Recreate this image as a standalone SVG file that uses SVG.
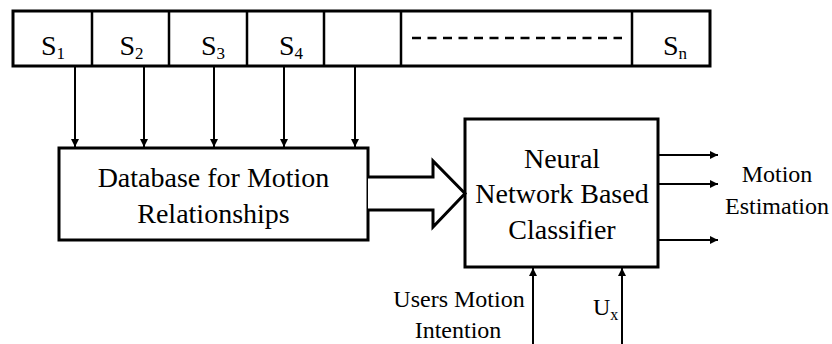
<svg xmlns="http://www.w3.org/2000/svg" width="832" height="344" viewBox="0 0 832 344">
  <style>
    .box { fill: #fff; stroke: #000; stroke-width: 3; }
    .cell { fill: none; stroke: #000; stroke-width: 2.5; }
    .wire { fill: none; stroke: #000; stroke-width: 2; }
    text { font-family: 'Liberation Serif', 'DejaVu Serif', serif; fill: #000; }
    .big { font-size: 28px; text-anchor: middle; }
    .mid { font-size: 24px; text-anchor: middle; }
    .sub { font-size: 17px; }
  </style>
  <defs>
    <marker id="head" viewBox="0 0 8 8" refX="8" refY="4" markerWidth="8" markerHeight="8" markerUnits="userSpaceOnUse" orient="auto">
      <path d="M0,0 L8,4 L0,8 Z" fill="#000"/>
    </marker>
  </defs>

  <!-- sensor strip -->
  <g id="sensors">
    <rect class="box" x="13" y="11" width="697" height="55"/>
    <path class="cell" d="M92,11 V66 M169,11 V66 M247,11 V66 M324,11 V66 M401,11 V66 M632,11 V66"/>
    <path d="M412,38 H622" stroke="#000" stroke-width="2.5" stroke-dasharray="9,6.5"/>
    <text class="big" x="53" y="55" font-family="Liberation Serif">S<tspan class="sub" dy="4">1</tspan></text>
    <text class="big" x="131.5" y="55" font-family="Liberation Serif">S<tspan class="sub" dy="4">2</tspan></text>
    <text class="big" x="213" y="55" font-family="Liberation Serif">S<tspan class="sub" dy="4">3</tspan></text>
    <text class="big" x="291" y="55" font-family="Liberation Serif">S<tspan class="sub" dy="4">4</tspan></text>
    <text class="big" x="675" y="55" font-family="Liberation Serif">S<tspan class="sub" dy="4">n</tspan></text>
  </g>

  <!-- database block -->
  <g id="database">
    <rect class="box" x="59" y="148" width="309" height="92"/>
    <text class="big" x="213.5" y="187">Database for Motion</text>
    <text class="big" x="213.5" y="223">Relationships</text>
  </g>

  <!-- classifier block -->
  <g id="classifier">
    <rect class="box" x="465" y="119" width="193" height="148"/>
    <text class="big" x="562" y="168">Neural</text>
    <text class="big" x="562" y="203">Network Based</text>
    <text class="big" x="562" y="239">Classifier</text>
  </g>

  <!-- output label -->
  <g id="output">
    <text class="mid" x="777" y="182">Motion</text>
    <text class="mid" x="777" y="214">Estimation</text>
  </g>

  <!-- input labels -->
  <g id="intention">
    <text class="mid" x="459" y="307">Users Motion</text>
    <text class="mid" x="458" y="338">Intention</text>
  </g>
  <g id="ux">
    <text class="mid" x="593" y="315" style="text-anchor:start">U<tspan font-size="16" dy="5">x</tspan></text>
  </g>

  <!-- connectors -->
  <g id="connectors">
    <path class="wire" marker-end="url(#head)" d="M75,66 V147"/>
    <path class="wire" marker-end="url(#head)" d="M144,66 V147"/>
    <path class="wire" marker-end="url(#head)" d="M214,66 V147"/>
    <path class="wire" marker-end="url(#head)" d="M284,66 V147"/>
    <path class="wire" marker-end="url(#head)" d="M355,66 V147"/>

    <!-- hollow block arrow from database to classifier -->
    <path d="M368,177 H433 V161 L465,193.5 L433,227 V210 H368" fill="#fff" stroke="#000" stroke-width="3" stroke-linejoin="miter"/>

    <path class="wire" marker-end="url(#head)" d="M658,155 H718"/>
    <path class="wire" marker-end="url(#head)" d="M658,184 H718"/>
    <path class="wire" marker-end="url(#head)" d="M658,240 H718"/>

    <path class="wire" marker-end="url(#head)" d="M533,344 V268"/>
    <path class="wire" marker-end="url(#head)" d="M622,344 V268"/>
  </g>
</svg>
